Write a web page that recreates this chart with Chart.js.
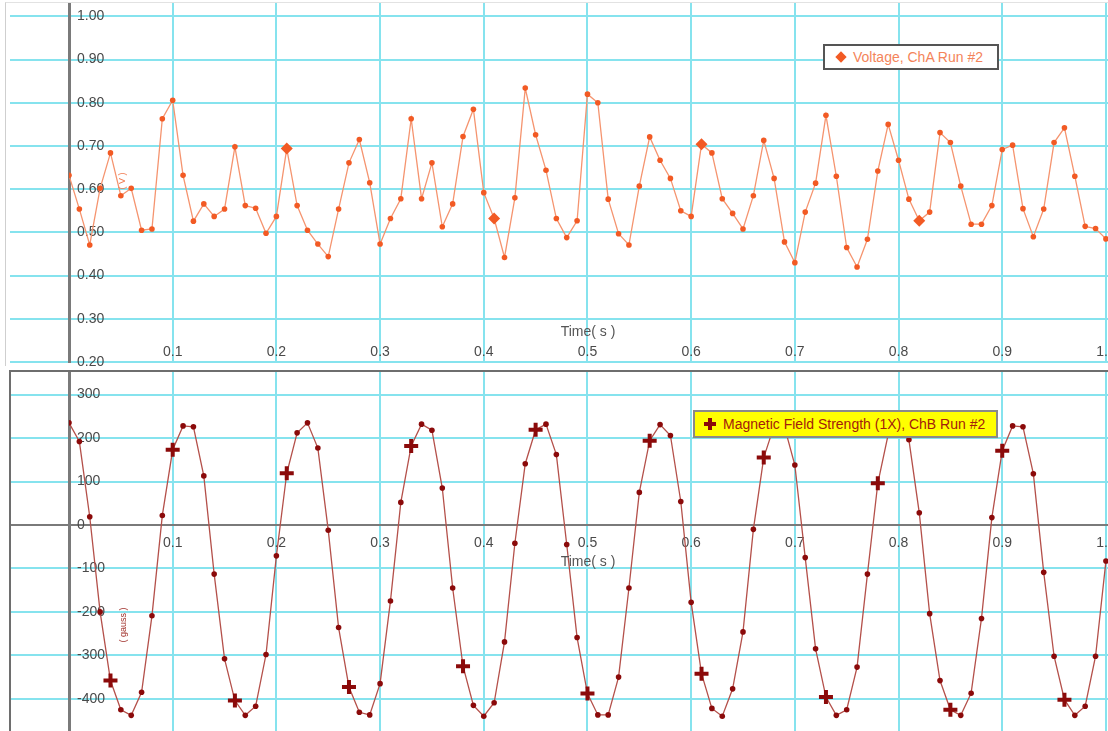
<!DOCTYPE html>
<html>
<head>
<meta charset="utf-8">
<title>Voltage / Magnetic Field Strength vs Time</title>
<script src="https://cdn.jsdelivr.net/npm/chart.js@4.4.1/dist/chart.umd.min.js"></script>
<style>
    body {
        margin: 0;
        width: 1108px;
        height: 731px;
        position: relative;
        overflow: hidden;
        background: #fff;
        font-family: 'Liberation Sans', Arial, sans-serif;
    }
    canvas { position: absolute; }
    #voltChart { left: 10px; top: 3px; }
    #fieldChart { left: 10px; top: 372px; }
    .frame { position: absolute; box-sizing: border-box; pointer-events: none; }
    #voltFrame { left: 5px; top: 2px; width: 1103px; height: 364px; border-left: 1px solid #cfcfcf; border-top: 1px solid #e2e2e2; }
    #fieldFrame { left: 9px; top: 370px; width: 1099px; height: 361px; border-left: 2px solid #6e6e6e; border-top: 2px solid #6e6e6e; z-index: 2; }
    .axis-title { position: absolute; font-size: 14px; color: #555; transform: translate(-50%, -50%); white-space: nowrap; }
    .unit { position: absolute; font-size: 9px; white-space: nowrap; transform: translate(-50%, -50%) rotate(-90deg); }
    .legend {
        position: absolute;
        box-sizing: border-box;
        font-size: 14px;
        line-height: 22px;
        white-space: nowrap;
        padding-left: 28px;
    }
    #voltLegend { left: 823px; top: 44px; width: 176px; height: 26px; border: 2px solid #555; background: #fff; color: #f4845a; }
    #fieldLegend { left: 693px; top: 410px; width: 305px; height: 28px; border: 2px solid #8a8a8a; background: #ffff00; color: #a3200c; line-height: 24px; }
    .diamond { position: absolute; left: 12px; top: 7px; width: 8px; height: 8px; background: #f25a24; transform: rotate(45deg); }
    .plus { position: absolute; left: 9px; top: 6px; width: 12px; height: 12px; }
    .plus::before, .plus::after { content: ''; position: absolute; background: #8b0a0a; }
    .plus::before { left: 4px; top: 0; width: 4px; height: 12px; }
    .plus::after { left: 0; top: 4px; width: 12px; height: 4px; }
</style>
</head>
<body>
<div class="frame" id="voltFrame"></div>
<canvas id="voltChart" width="1098" height="368"></canvas>
<canvas id="fieldChart" width="1098" height="359"></canvas>
<div class="frame" id="fieldFrame"></div>

<div class="axis-title" style="left:588px;top:331px;">Time( s )</div>
<div class="axis-title" style="left:588px;top:561px;">Time( s )</div>
<div class="unit" style="left:122px;top:181px;color:#f07a50;">( V )</div>
<div class="unit" style="left:123px;top:625px;color:#a0302a;">( gauss )</div>

<div class="legend" id="voltLegend"><i class="diamond"></i>Voltage, ChA Run #2</div>
<div class="legend" id="fieldLegend"><i class="plus"></i>Magnetic Field Strength (1X), ChB Run #2</div>

<script>
// sample times (s), shared by both channels
const TIME = [
    0.00, 0.01, 0.02, 0.03, 0.04, 0.05, 0.06, 0.07, 0.08, 0.09,
    0.10, 0.11, 0.12, 0.13, 0.14, 0.15, 0.16, 0.17, 0.18, 0.19,
    0.20, 0.21, 0.22, 0.23, 0.24, 0.25, 0.26, 0.27, 0.28, 0.29,
    0.30, 0.31, 0.32, 0.33, 0.34, 0.35, 0.36, 0.37, 0.38, 0.39,
    0.40, 0.41, 0.42, 0.43, 0.44, 0.45, 0.46, 0.47, 0.48, 0.49,
    0.50, 0.51, 0.52, 0.53, 0.54, 0.55, 0.56, 0.57, 0.58, 0.59,
    0.60, 0.61, 0.62, 0.63, 0.64, 0.65, 0.66, 0.67, 0.68, 0.69,
    0.70, 0.71, 0.72, 0.73, 0.74, 0.75, 0.76, 0.77, 0.78, 0.79,
    0.80, 0.81, 0.82, 0.83, 0.84, 0.85, 0.86, 0.87, 0.88, 0.89,
    0.90, 0.91, 0.92, 0.93, 0.94, 0.95, 0.96, 0.97, 0.98, 0.99,
    1.00
];

// Voltage, ChA Run #2 (V)
const VOLTAGE = [
    0.632, 0.554, 0.471, 0.602, 0.684, 0.585, 0.602, 0.505, 0.508, 0.763,
    0.806, 0.632, 0.526, 0.566, 0.537, 0.554, 0.698, 0.562, 0.556, 0.498,
    0.537, 0.694, 0.562, 0.505, 0.473, 0.444, 0.554, 0.661, 0.715, 0.615,
    0.473, 0.532, 0.578, 0.763, 0.578, 0.661, 0.513, 0.566, 0.722, 0.785,
    0.592, 0.532, 0.442, 0.580, 0.834, 0.726, 0.644, 0.532, 0.488, 0.527,
    0.820, 0.800, 0.577, 0.497, 0.471, 0.607, 0.721, 0.667, 0.625, 0.550,
    0.537, 0.704, 0.684, 0.578, 0.544, 0.508, 0.585, 0.713, 0.625, 0.478,
    0.430, 0.547, 0.614, 0.771, 0.630, 0.465, 0.420, 0.484, 0.642, 0.750,
    0.667, 0.577, 0.527, 0.547, 0.731, 0.708, 0.607, 0.519, 0.519, 0.562,
    0.692, 0.702, 0.555, 0.490, 0.554, 0.708, 0.742, 0.630, 0.514, 0.509,
    0.485
];

// Magnetic Field Strength (1X), ChB Run #2 (gauss)
const FIELD = [
    235, 192, 19, -200, -358, -425, -438, -385, -209, 22,
    173, 228, 226, 113, -113, -308, -404, -438, -417, -298,
    -71, 119, 212, 235, 177, -12, -236, -373, -431, -437,
    -365, -175, 52, 182, 232, 218, 85, -145, -325, -415,
    -440, -409, -269, -42, 141, 219, 232, 162, -45, -259,
    -388, -437, -437, -350, -145, 75, 194, 231, 206, 54,
    -178, -342, -422, -440, -377, -246, -10, 155, 228, 226,
    138, -75, -285, -396, -438, -425, -327, -113, 96, 208,
    234, 196, 28, -204, -358, -425, -438, -387, -215, 17,
    171, 228, 226, 118, -109, -302, -402, -438, -417, -302,
    -83
];

// samples drawn with the large marker
const VOLT_MARKS = [21, 41, 61, 82];
const FIELD_MARKS = [4, 10, 16, 21, 27, 33, 38, 45, 50, 56, 61, 67, 73, 78, 85, 90, 96];

const TIME_TICKS = [0.1, 0.2, 0.3, 0.4, 0.5, 0.6, 0.7, 0.8, 0.9, 1.0];
const VOLT_TICKS = [0.2, 0.3, 0.4, 0.5, 0.6, 0.7, 0.8, 0.9, 1.0];
const FIELD_TICKS = [300, 200, 100, 0, -100, -200, -300, -400];

const GRID = '#86e3ee';
const AXIS = '#7a7a7a';
const TICK_TEXT = '#4a4a4a';
const AXIS_WIDTH = 59; // y axis sits 59px in from the canvas edge

Chart.defaults.font.family = "'Liberation Sans', Arial, sans-serif";

// force a fixed axis size and drop the edge padding chart.js reserves for labels
function pinScale(size) {
    return scale => {
        if (size !== undefined) {
            if (scale.isHorizontal()) { scale.height = size; } else { scale.width = size; }
        }
        scale.paddingLeft = 0;
        scale.paddingRight = 0;
        scale.paddingTop = 0;
        scale.paddingBottom = 0;
    };
}

function useTicks(values) {
    return scale => {
        scale.ticks = values.map(v => ({ value: v }));
    };
}

function points(values) {
    return TIME.map((t, i) => ({ x: t, y: values[i] }));
}

const baseOptions = {
    responsive: false,
    animation: false,
    events: [],
    layout: { padding: 0, autoPadding: false },
    plugins: { legend: { display: false }, tooltip: { enabled: false } }
};

// --- top panel: voltage ---
new Chart(document.getElementById('voltChart'), {
    type: 'line',
    data: {
        datasets: [{
            data: points(VOLTAGE),
            borderColor: '#f5946f',
            borderWidth: 1.3,
            tension: 0,
            pointStyle: c => VOLT_MARKS.includes(c.dataIndex) ? 'rectRot' : 'circle',
            pointRadius: c => VOLT_MARKS.includes(c.dataIndex) ? 6 : 2.8,
            pointBackgroundColor: '#f25a24',
            pointBorderColor: '#f25a24',
            pointBorderWidth: 0
        }]
    },
    options: {
        ...baseOptions,
        scales: {
            x: {
                type: 'linear',
                position: 'bottom',
                min: 0,
                max: 1.002,
                afterBuildTicks: useTicks(TIME_TICKS),
                afterFit: pinScale(9),
                grid: { color: GRID, lineWidth: 2, drawTicks: false },
                border: { display: false },
                ticks: {
                    mirror: true,
                    padding: 1,
                    color: TICK_TEXT,
                    font: { size: 14 },
                    maxRotation: 0,
                    autoSkip: false,
                    callback: v => v.toFixed(1)
                }
            },
            y: {
                type: 'linear',
                position: 'left',
                min: 0.2,
                max: 1.031,
                afterBuildTicks: useTicks(VOLT_TICKS),
                afterFit: pinScale(AXIS_WIDTH),
                grid: { color: GRID, lineWidth: 2, tickLength: AXIS_WIDTH, tickColor: GRID },
                border: { color: AXIS, width: 3 },
                ticks: {
                    mirror: true,
                    padding: 8,
                    color: TICK_TEXT,
                    font: { size: 14 },
                    autoSkip: false,
                    callback: v => v.toFixed(2)
                }
            }
        }
    }
});

// --- bottom panel: magnetic field ---
const zeroAware = c => (c.tick && c.tick.value === 0) ? AXIS : GRID;

new Chart(document.getElementById('fieldChart'), {
    type: 'line',
    data: {
        datasets: [{
            data: points(FIELD),
            borderColor: '#b4504a',
            borderWidth: 1.3,
            tension: 0,
            pointStyle: c => FIELD_MARKS.includes(c.dataIndex) ? 'cross' : 'circle',
            pointRadius: c => FIELD_MARKS.includes(c.dataIndex) ? 7 : 2.8,
            pointBorderWidth: c => FIELD_MARKS.includes(c.dataIndex) ? 4 : 0,
            pointBackgroundColor: '#8b0a0a',
            pointBorderColor: '#8b0a0a'
        }]
    },
    options: {
        ...baseOptions,
        scales: {
            x: {
                type: 'linear',
                position: { y: 0 },
                min: 0,
                max: 1.002,
                afterBuildTicks: useTicks(TIME_TICKS),
                afterFit: pinScale(),
                grid: { color: GRID, lineWidth: 2, drawTicks: false },
                border: { color: AXIS, width: 2 },
                ticks: {
                    padding: 10,
                    color: TICK_TEXT,
                    font: { size: 14 },
                    maxRotation: 0,
                    autoSkip: false,
                    callback: v => v.toFixed(1)
                }
            },
            y: {
                type: 'linear',
                position: 'left',
                min: -474,
                max: 352,
                afterBuildTicks: useTicks(FIELD_TICKS),
                afterFit: pinScale(AXIS_WIDTH),
                grid: { color: zeroAware, lineWidth: 2, tickLength: AXIS_WIDTH, tickColor: zeroAware },
                border: { color: AXIS, width: 3 },
                ticks: {
                    mirror: true,
                    padding: 8,
                    color: TICK_TEXT,
                    font: { size: 14 },
                    autoSkip: false,
                    callback: v => String(v)
                }
            }
        }
    }
});
</script>
</body>
</html>
